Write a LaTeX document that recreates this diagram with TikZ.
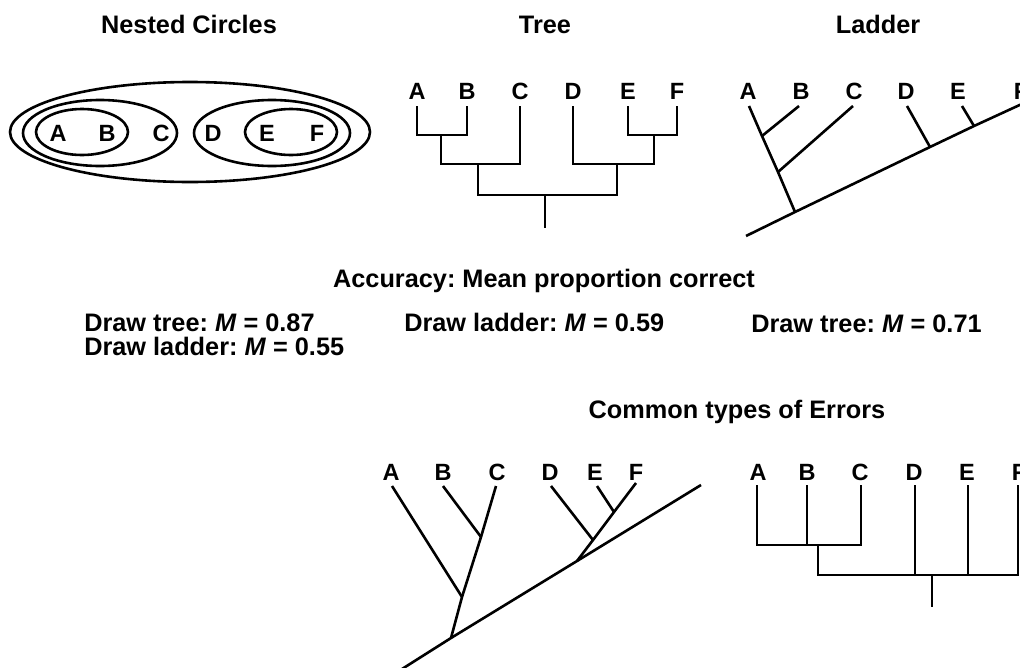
\documentclass[tikz,border=0pt]{standalone}
\usepackage{fontspec}
\setmainfont{Liberation Sans}
\usepackage{tikz}
\frenchspacing

\begin{document}
\begin{tikzpicture}[x=1pt,y=-1pt,line width=2.6pt,
	ttl/.style={font=\fontsize{25.3}{30}\selectfont\bfseries,inner sep=0pt,anchor=base},
	res/.style={font=\fontsize{25.3}{30}\selectfont\bfseries,inner sep=0pt,anchor=base west},
	leaf/.style={font=\fontsize{23.5}{28}\selectfont\bfseries,inner sep=0pt,anchor=base}]
	\useasboundingbox (0,0) rectangle (1020,667);
	\clip (0,0) rectangle (1020,667);

	% titles
	\node[ttl] (tnest) at (189,33) {Nested Circles};
	\node[ttl] (ttree) at (545,33) {Tree};
	\node[ttl] (tladder) at (878,33) {Ladder};
	\node[ttl] (tacc) at (544,287) {Accuracy: Mean proportion correct};
	\node[res] (r1) at (83,331) {Draw tree: \textit{M} = 0.87};
	\node[res] (r2) at (83,355) {Draw ladder: \textit{M} = 0.55};
	\node[res] (r3) at (403,331) {Draw ladder: \textit{M} = 0.59};
	\node[res] (r4) at (750,332) {Draw tree: \textit{M} = 0.71};
	\node[ttl] (terr) at (737,418) {Common types of Errors};

	% nested circles
	\draw (190,132) ellipse [x radius=180pt, y radius=50pt];
	\draw (100,133) ellipse [x radius=77pt, y radius=33pt];
	\draw (82,132) ellipse [x radius=46pt, y radius=23pt];
	\draw (272,133) ellipse [x radius=78pt, y radius=33pt];
	\draw (291,132) ellipse [x radius=46pt, y radius=23pt];
	\node[leaf] (nA) at (58,141) {A};
	\node[leaf] (nB) at (107,141) {B};
	\node[leaf] (nC) at (161,141) {C};
	\node[leaf] (nD) at (213,141) {D};
	\node[leaf] (nE) at (267,141) {E};
	\node[leaf] (nF) at (317,141) {F};

	% tree
	\node[leaf] (tA) at (417,99) {A};
	\node[leaf] (tB) at (467,99) {B};
	\node[leaf] (tC) at (520,99) {C};
	\node[leaf] (tD) at (573,99) {D};
	\node[leaf] (tE) at (628,99) {E};
	\node[leaf] (tF) at (677,99) {F};
	\coordinate (ta) at (417,106);
	\coordinate (tb) at (467,106);
	\coordinate (tc) at (520,106);
	\coordinate (td) at (573,106);
	\coordinate (te) at (628,106);
	\coordinate (tf) at (677,106);
	\coordinate (tab) at (441,135);
	\coordinate (tabc) at (478,164);
	\coordinate (tef) at (654,135);
	\coordinate (tdef) at (617,164);
	\coordinate (troot) at (545,195);
	\coordinate (troot0) at (545,228);
	\draw (ta) |- (tab) -| (tb);
	\draw (tab) |- (tabc) -| (tc);
	\draw (te) |- (tef) -| (tf);
	\draw (td) |- (tdef) -| (tef);
	\draw (tabc) |- (troot) -| (tdef);
	\draw (troot) to (troot0);

	% ladder
	\node[leaf] (lA) at (748,99) {A};
	\node[leaf] (lB) at (801,99) {B};
	\node[leaf] (lC) at (854,99) {C};
	\node[leaf] (lD) at (906,99) {D};
	\node[leaf] (lE) at (958,99) {E};
	\node[leaf] (lF) at (1021,99) {F};
	\coordinate (la) at (749,106);
	\coordinate (lb) at (799,106);
	\coordinate (lc) at (853,106);
	\coordinate (ld) at (907,106);
	\coordinate (le) at (962,106);
	\coordinate (l0) at (746,236);
	\coordinate (la1) at (795,212);
	\coordinate (lb1) at (762,136);
	\coordinate (lc1) at (778,172);
	\coordinate (ld1) at (930,147);
	\coordinate (le1) at (974,126);
	\coordinate (lf) at (1024,103);
	\draw (l0) to (la1) to (ld1) to (le1) to (lf);
	\draw (la) to (lb1) to (lc1) to (la1);
	\draw (lb) to (lb1);
	\draw (lc) to (lc1);
	\draw (ld) to (ld1);
	\draw (le) to (le1);

	% error 1: ladder drawn with subtrees
	\node[leaf] (eA) at (391,480) {A};
	\node[leaf] (eB) at (443,480) {B};
	\node[leaf] (eC) at (497,480) {C};
	\node[leaf] (eD) at (550,480) {D};
	\node[leaf] (eE) at (595,480) {E};
	\node[leaf] (eF) at (636,480) {F};
	\coordinate (ea) at (392,486);
	\coordinate (eb) at (443,486);
	\coordinate (ec) at (496,486);
	\coordinate (ed) at (551,486);
	\coordinate (ee) at (597,486);
	\coordinate (ef) at (636,483);
	\coordinate (e0) at (402,669);
	\coordinate (ec1) at (451,638);
	\coordinate (eb1) at (481,537);
	\coordinate (ea1) at (462,597);
	\coordinate (ef1) at (577,561);
	\coordinate (ed1) at (593,540);
	\coordinate (ee1) at (614,512);
	\coordinate (e9) at (701,485);
	\draw (e0) to (ec1) to (ef1) to (e9);
	\draw (ec) to (eb1) to (ea1) to (ec1);
	\draw (ea) to (ea1);
	\draw (eb) to (eb1);
	\draw (ef) to (ee1) to (ed1) to (ef1);
	\draw (ed) to (ed1);
	\draw (ee) to (ee1);

	% error 2: tree with a flat root
	\node[leaf] (gA) at (758,480) {A};
	\node[leaf] (gB) at (807,480) {B};
	\node[leaf] (gC) at (860,480) {C};
	\node[leaf] (gD) at (914,480) {D};
	\node[leaf] (gE) at (967,480) {E};
	\node[leaf] (gF) at (1019,480) {F};
	\coordinate (ga) at (757,485);
	\coordinate (gb) at (807,485);
	\coordinate (gc) at (861,485);
	\coordinate (gd) at (915,485);
	\coordinate (ge) at (968,485);
	\coordinate (gf) at (1018,485);
	\coordinate (gb1) at (807,545);
	\coordinate (gabc) at (818,545);
	\coordinate (gd1) at (915,575);
	\coordinate (ge1) at (968,575);
	\coordinate (groot) at (932,575);
	\coordinate (groot0) at (932,607);
	\draw (ga) |- (gabc) -| (gc);
	\draw (gb) to (gb1);
	\draw (gabc) |- (groot) -| (gf);
	\draw (gd) to (gd1);
	\draw (ge) to (ge1);
	\draw (groot) to (groot0);
\end{tikzpicture}
\end{document}
